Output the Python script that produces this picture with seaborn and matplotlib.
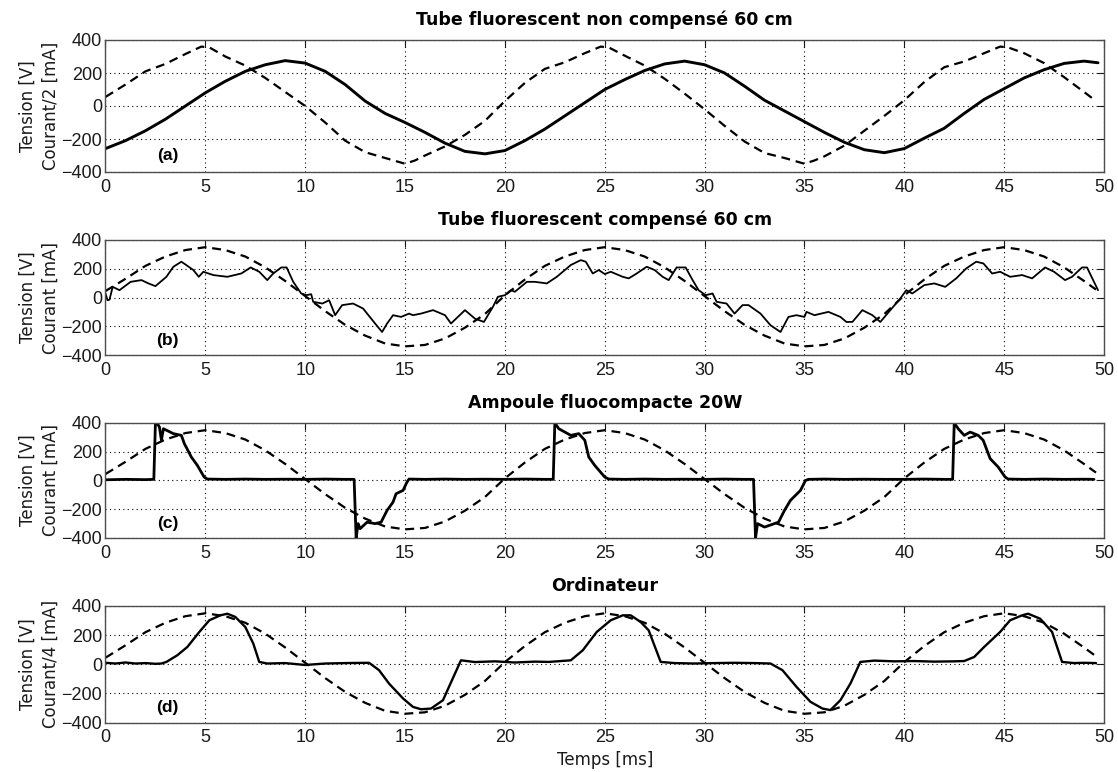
import matplotlib
matplotlib.use("Agg")
import matplotlib.pyplot as plt
import seaborn as sns

# --- data (time in ms) ---

# voltage, panel (a)
t_tension_a = [0, 1, 2, 3, 4, 4.8, 5.2, 6, 7, 8, 9, 10, 11, 12, 13, 14, 15, 15.5, 16, 17, 18, 19,
               20, 21, 22, 23, 24, 24.8, 25.2, 26, 27, 28, 29, 30, 31, 32, 33, 34, 35, 35.5, 36, 37, 38, 39,
               40, 41, 42, 43, 44, 44.8, 45.2, 46, 47, 48, 49, 49.6]
tension_a = [55, 130, 210, 255, 315, 360, 355, 300, 245, 170, 85, 0, -100, -210, -280, -315, -350, -330, -300, -245, -175, -90,
             30, 140, 225, 265, 320, 360, 355, 305, 245, 165, 75, -20, -120, -215, -285, -315, -350, -330, -305, -240, -150, -60,
             35, 145, 235, 270, 320, 360, 355, 320, 260, 175, 85, 30]

# voltage, panels (b), (c), (d)
t_tension = [0, 1, 2, 3, 4, 5, 6, 7, 8, 9, 10, 11, 12, 13, 14, 15, 16, 17, 18, 19,
             20, 21, 22, 23, 24, 25, 26, 27, 28, 29, 30, 31, 32, 33, 34, 35, 36, 37, 38, 39,
             40, 41, 42, 43, 44, 45, 46, 47, 48, 49, 49.6]
tension = [45, 130, 220, 285, 330, 350, 330, 285, 210, 115, 10, -95, -190, -265, -320, -340, -330, -285, -210, -115,
           15, 125, 220, 285, 330, 350, 330, 285, 210, 115, 10, -95, -190, -265, -320, -340, -330, -285, -210, -115,
           15, 125, 220, 285, 330, 350, 330, 285, 210, 115, 55]

# current (a): non compensated tube, Courant/2
t_courant_a = list(range(50)) + [49.7]
courant_a = [-258, -210, -150, -80, 0, 80, 150, 210, 250, 275, 260, 210, 130, 30, -45, -100, -160, -225, -275, -290,
             -270, -210, -140, -60, 20, 100, 160, 215, 255, 272, 250, 200, 120, 35, -30, -95, -160, -220, -265, -283,
             -258, -195, -135, -45, 40, 105, 170, 220, 258, 272, 262]

# current (b): compensated tube
t_courant_b = [0, 0.1, 0.2, 0.36, 0.7, 1.26, 1.8, 2.15, 2.5, 3.05, 3.4, 3.8, 4.04, 4.4, 4.67, 4.9, 5.4, 6.1, 6.8, 7.27,
               7.7, 8.1, 8.4, 8.8, 9.07, 9.4, 9.8, 10.05, 10.3, 10.4, 10.86, 11.2, 11.5, 11.85, 12.4, 12.9, 13.5, 13.85,
               14.1, 14.4, 14.8, 15.2, 15.4, 15.8, 16.4, 17.0, 17.3, 18.0, 18.5, 18.95, 19.4, 19.65, 20.0, 20.3, 20.5,
               21.1, 21.5, 22.1, 22.6, 23.3, 23.8, 24.05, 24.4, 24.7, 25.0, 25.3, 25.9, 26.2, 26.6, 27.1, 27.5, 27.9,
               28.2, 28.6, 29.05, 29.4, 29.7, 30.05, 30.4, 30.6, 31.1, 31.5, 31.9, 32.2, 32.8, 33.3, 33.8, 34.2, 34.6,
               35.0, 35.1, 35.5, 36.2, 36.8, 37.1, 37.4, 37.9, 38.4, 38.8, 39.3, 39.8, 40.1, 40.4, 41.0, 41.5, 42.05,
               42.6, 43.1, 43.6, 43.96, 44.4, 44.8, 45.3, 45.9, 46.4, 47.05, 47.5, 48.05, 48.4, 48.9, 49.15, 49.7]
courant_b = [28, -19, -15, 74, 51, 109, 121, 98, 79, 144, 214, 249, 226, 191, 144, 179, 156, 144, 167, 209,
             179, 121, 167, 209, 209, 109, 28, 16, 23, -30, -42, -19, -123, -53, -42, -77, -181, -240,
             -181, -123, -135, -112, -123, -112, -88, -123, -181, -88, -147, -170, -65, 5, 16, 51, 40,
             109, 109, 98, 144, 226, 260, 249, 167, 191, 163, 179, 144, 133, 167, 214, 191, 144,
             121, 209, 209, 121, 51, 16, 28, -30, -42, -112, -53, -53, -112, -193, -240, -135, -123,
             -135, -100, -123, -100, -135, -170, -170, -88, -123, -170, -88, -7, 51, 28, 86, 98, 74,
             133, 202, 249, 237, 167, 179, 144, 156, 133, 209, 179, 121, 144, 209, 209, 51]

# current (c): compact fluorescent lamp
t_courant_c = [0, 1, 2, 2.42, 2.5, 2.6, 2.7, 2.8, 2.9, 3.4, 3.8, 3.95, 4.3, 4.6, 4.94, 5.1, 6, 7, 8, 9, 10, 11, 12,
               12.45, 12.55, 12.65, 12.75, 13.1, 13.5, 13.8, 14.1, 14.4, 14.55, 14.9, 15.1, 15.2, 16, 17, 18, 19, 20,
               21, 22, 22.42, 22.5, 22.7, 23.0, 23.3, 23.7, 24.0, 24.2, 24.5, 25.0, 25.2, 26, 27, 28, 29, 30, 31, 32,
               32.45, 32.55, 32.65, 33.0, 33.7, 34.0, 34.3, 34.8, 35.05, 35.2, 36, 37, 38, 39, 40, 41, 42,
               42.42, 42.5, 42.7, 43.0, 43.3, 43.7, 43.95, 44.3, 44.7, 45.05, 45.2, 46, 47, 48, 49, 49.5]
courant_c = [5, 8, 6, 8, 400, 395, 372, 280, 360, 326, 314, 256, 163, 105, 24, 10, 8, 10, 8, 9, 8, 10, 8,
             8, -400, -300, -335, -290, -300, -290, -208, -150, -92, -69, -10, 10, 8, 10, 8, 9, 8,
             10, 8, 8, 400, 360, 337, 314, 326, 280, 163, 105, 24, 10, 8, 10, 8, 9, 8, 10, 8,
             8, -400, -300, -324, -290, -208, -138, -69, 0, 8, 10, 8, 9, 8, 8, 10, 8,
             8, 400, 360, 314, 337, 314, 280, 152, 94, 24, 10, 8, 10, 8, 9, 8]

# current (d): computer, Courant/4
t_courant_d = [0, 0.5, 1, 1.5, 2, 2.5, 2.8, 3.05, 3.6, 4.1, 4.7, 5.2, 5.75, 6.1, 6.5, 7.0, 7.4, 7.7, 8.1, 9, 10, 11,
               12, 13.2, 13.7, 14.2, 14.9, 15.4, 15.8, 16.3, 16.9, 17.2, 17.8, 18.5, 19.5, 20.5, 21.5, 22.2, 23.3,
               23.9, 24.6, 25.3, 25.9, 26.3, 26.8, 27.2, 27.8, 28.5, 29.5, 30.5, 31.5, 32.5, 33.3, 33.9, 34.6, 35.3,
               35.9, 36.3, 36.8, 37.3, 37.8, 38.5, 39.5, 40.5, 41.5, 42.5, 43.0, 43.5, 44.0, 44.8, 45.3, 45.9, 46.2,
               46.8, 47.4, 47.9, 48.5, 49.0, 49.6]
courant_d = [10, 5, 12, 5, 8, 3, 5, 16, 62, 119, 222, 302, 336, 347, 325, 256, 142, 16, 5, 8, -5, 5,
             8, 10, -41, -133, -235, -293, -309, -304, -247, -155, 27, 15, 20, 12, 18, 16, 27,
             96, 222, 302, 336, 336, 290, 233, 16, 8, 5, 8, 10, 8, 5, -41, -155, -258,
             -304, -315, -247, -133, 16, 25, 20, 22, 18, 20, 22, 50, 119, 222, 302, 336, 347,
             313, 222, 16, 8, 10, 8]

titles = ["Tube fluorescent non compensé 60 cm", "Tube fluorescent compensé 60 cm",
          "Ampoule fluocompacte 20W", "Ordinateur"]
ylabels = ["Tension [V]\nCourant/2 [mA]", "Tension [V]\nCourant [mA]",
           "Tension [V]\nCourant [mA]", "Tension [V]\nCourant/4 [mA]"]
tags = ["(a)", "(b)", "(c)", "(d)"]

sns.set_theme(style="white")
plt.rcParams["font.family"] = ["Liberation Sans", "DejaVu Sans"]
wide = ["DejaVu Sans"]

fig = plt.figure(figsize=(11.18, 7.72), dpi=100)
left, width = 105.5 / 1118, 998.5 / 1118
boxes = [(172, 132), (355, 115), (538, 115), (722.5, 116.5)]  # (bottom px, height px)

panels = [
    (t_tension_a, tension_a, t_courant_a, courant_a, 2.1),
    (t_tension, tension, t_courant_b, courant_b, 1.3),
    (t_tension, tension, t_courant_c, courant_c, 2.0),
    (t_tension, tension, t_courant_d, courant_d, 1.7),
]

for i, (tv, v, tc, c, lw) in enumerate(panels):
    bot, h = boxes[i]
    ax = fig.add_axes([left, (772 - bot) / 772, width, h / 772])

    sns.lineplot(x=tv, y=v, ax=ax, color="black", linewidth=1.6,
                 linestyle=(0, (4, 2.6)), estimator=None, sort=False)
    sns.lineplot(x=tc, y=c, ax=ax, color="black", linewidth=lw,
                 estimator=None, sort=False)

    ax.set_xlim(0, 50)
    ax.set_ylim(-400, 400)
    ax.set_xticks(range(0, 51, 5))
    ax.set_yticks([-400, -200, 0, 200, 400])
    ax.grid(True, color="black", linestyle=(0, (1, 3)), linewidth=0.8)
    ax.tick_params(direction="in", length=5, width=0.8, top=True, right=True,
                   labelsize=13, colors="0.1")
    ax.tick_params(axis="x", pad=5)
    ax.tick_params(axis="y", pad=2.5)
    for s in ax.spines.values():
        s.set_color("0.3")
        s.set_linewidth(1.0)

    ax.set_title(titles[i], fontsize=12.5, fontweight="bold", pad=10.5, family=wide, color="black")
    ax.set_ylabel(ylabels[i], fontsize=12, linespacing=1.4, labelpad=1, color="0.1", family=wide)
    ax.text(3.1, -300, tags[i], ha="center", va="center", fontsize=12.5, fontweight="bold", color="black")
    if i == 3:
        ax.set_xlabel("Temps [ms]", fontsize=12, labelpad=3, color="0.1", family=wide)
    else:
        ax.set_xlabel("")

fig.savefig("out.png", dpi=100)
